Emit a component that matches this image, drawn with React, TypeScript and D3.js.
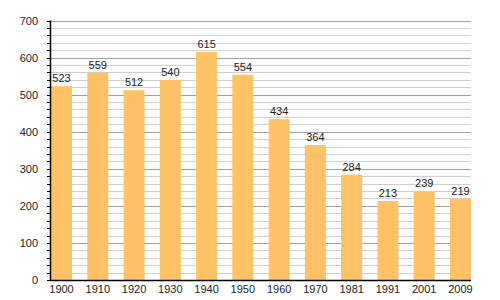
import React from "react";
import * as d3 from "d3";

const years = ["1900","1910","1920","1930","1940","1950","1960","1970","1981","1991","2001","2009"];
const population = [523,559,512,540,615,554,434,364,284,213,239,219];
const majorTicks = [0,100,200,300,400,500,600,700];
const minorTicks = d3.range(0, 701, 20);

export default function App() {
  const W = 500, H = 300;
  const x0 = 50, x1 = 471, yTop = 20.5, yBot = 280;
  const x = d3.scaleBand<string>().domain(years).range([51, 471]).paddingInner(0.42).paddingOuter(0);
  const y = d3.scaleLinear().domain([0, 700]).range([yBot, yTop]);
  const font = "'Liberation Sans', Arial, sans-serif";
  return (
    <svg width={W} height={H} style={{ position: "absolute", left: 0, top: 0, background: "#fff" }}>
      {minorTicks.filter(t => t % 100 !== 0).map(t => (
        <line key={"m" + t} x1={x0} x2={x1} y1={Math.round(y(t)) + 0.5} y2={Math.round(y(t)) + 0.5} stroke="#cfcfcf" strokeWidth={1} />
      ))}
      {majorTicks.filter(t => t !== 0).map(t => (
        <line key={"M" + t} x1={x0} x2={x1} y1={Math.round(y(t)) + 0.5} y2={Math.round(y(t)) + 0.5} stroke="#a0a0a0" strokeWidth={1} />
      ))}
      {minorTicks.map(t => (
        <line key={"t" + t} x1={x0 - 3} x2={x0} y1={Math.round(y(t)) + 0.5} y2={Math.round(y(t)) + 0.5} stroke="#000" strokeWidth={1} />
      ))}
      {years.map((yr, i) => (
        <rect key={yr} x={x(yr)} y={y(population[i])} width={x.bandwidth()} height={yBot - y(population[i])} fill="#ffc266" />
      ))}
      {years.map((yr, i) => (
        <text key={"v" + yr} x={(x(yr) as number) + x.bandwidth() / 2} y={y(population[i]) - 4} textAnchor="middle" fontFamily={font} fontSize={11} fill="#222">{population[i]}</text>
      ))}
      <line x1={x0 + 0.5} x2={x0 + 0.5} y1={yTop} y2={yBot} stroke="#000" strokeWidth={1.5} />
      <line x1={x0} x2={x1} y1={yBot + 0.5} y2={yBot + 0.5} stroke="#000" strokeWidth={1.5} />
      {majorTicks.map(t => (
        <text key={"yl" + t} x={38} y={y(t) + 4} textAnchor="end" fontFamily={font} fontSize={11} fill="#222">{t}</text>
      ))}
      {years.map(yr => (
        <text key={"xl" + yr} x={(x(yr) as number) + x.bandwidth() / 2} y={293} textAnchor="middle" fontFamily={font} fontSize={11} fill="#222">{yr}</text>
      ))}
    </svg>
  );
}
